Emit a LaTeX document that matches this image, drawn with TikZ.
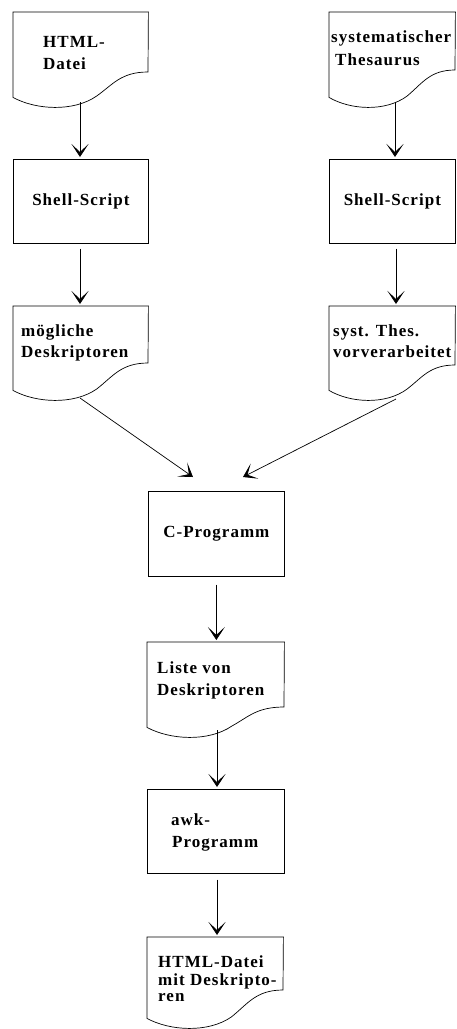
\documentclass[tikz,border=0pt]{standalone}
\usepackage{fontspec}
\setmainfont{Liberation Serif}[LetterSpace=6]
\usetikzlibrary{arrows.meta,calc}

\newcommand\lbl{\fontsize{17}{20}\selectfont\bfseries}

\tikzset{
  outline/.style={line width=0.7pt},
  procbox/.style={draw, outline, rectangle, inner sep=0pt, anchor=north west, font=\lbl},
  docarea/.style={rectangle, inner sep=0pt, anchor=north west},
  lbl/.style={anchor=base west, inner sep=0pt, font=\lbl},
  flow/.style={line width=0.7pt, -{Stealth[length=13pt,width=17pt,inset=8pt]}, shorten >=2pt},
}

% document symbol: name, left x, top y, width, depth of left side, depth of right side
\newcommand\docsheet[6]{%
  \node[docarea, minimum width=#4pt, minimum height=#5pt] (#1) at (#2,#3) {};
  \pgfmathsetmacro\xb{#2+#4}%
  \pgfmathsetmacro\yl{#3+#5}%
  \pgfmathsetmacro\yr{#3+#6}%
  \pgfmathsetmacro\ym{0.5*(\yl+\yr)}%
  \pgfmathsetmacro\cA{#2+0.80*#4}%
  \pgfmathsetmacro\cB{#2+0.74*#4}%
  \pgfmathsetmacro\xM{#2+0.62*#4}%
  \pgfmathsetmacro\cC{#2+0.45*#4}%
  \pgfmathsetmacro\cD{#2+0.17*#4}%
  \draw[outline] (#1.north west) -- (#1.north east) -- (\xb,\yr)
    .. controls (\cA,\yr) and (\cB,\ym) .. (\xM,\yl-1)
    .. controls (\cC,\yl+15) and (\cD,\yl+13) .. (#1.south west) -- cycle;
}

\begin{document}
\begin{tikzpicture}[x=1pt,y=-1pt]
\useasboundingbox (0,0) rectangle (456,1029);

% input documents
\docsheet{d1}{13}{12}{135}{85}{60}
\docsheet{d2}{329}{12}{126}{85}{58}
\node[lbl] (d1a) at (43,47) {HTML-};
\node[lbl] (d1b) at (43,69) {Datei};
\node[lbl] (d2a) at (331,42) {systematischer};
\node[lbl] (d2b) at (335,65) {Thesaurus};

% preprocessing scripts
\node[procbox, minimum width=135pt, minimum height=84pt] (s1) at (13,159) {Shell-Script};
\node[procbox, minimum width=126pt, minimum height=84pt] (s2) at (329,159) {Shell-Script};

% intermediate documents
\docsheet{d3}{13}{306}{135}{84}{57}
\docsheet{d4}{329}{306}{126}{84}{59}
\node[lbl] (d3a) at (21,336) {mögliche};
\node[lbl] (d3b) at (21,357) {Deskriptoren};
\node[lbl] (d4a) at (333,336) {syst. Thes.};
\node[lbl] (d4b) at (333,357) {vorverarbeitet};

% matching program
\node[procbox, minimum width=136pt, minimum height=85pt] (cp) at (148,491) {C-Programm};

% descriptor list
\docsheet{d5}{147}{642}{137}{85}{65}
\node[lbl] (d5a) at (157,673) {Liste von};
\node[lbl] (d5b) at (157,695) {Deskriptoren};

% output program
\node[procbox, minimum width=137pt, minimum height=84pt] (awk) at (147,789) {};
\node[lbl] (awka) at (171,825) {awk-};
\node[lbl] (awkb) at (172,847) {Programm};

% result document
\docsheet{d6}{147}{937}{136}{81}{53}
\node[lbl] (d6a) at (158,967) {HTML-Datei};
\node[lbl] (d6b) at (158,985) {mit Deskripto-};
\node[lbl] (d6c) at (158,1001) {ren};

% connector ends
\coordinate (d1-out) at (80,102);
\coordinate (d2-out) at (395,102);
\coordinate (d3-out) at (80,398);
\coordinate (d4-out) at (396,399);
\coordinate (cp-inl) at (193,477);
\coordinate (cp-inr) at (243,477);
\coordinate (d5-out) at (217,730);

% connectors
\draw[flow] (d1-out) -- (d1-out |- s1.north);
\draw[flow] (d2-out) -- (d2-out |- s2.north);
\draw[flow, shorten <=5pt] (s1.south -| d1-out) -- (d3.north -| d1-out);
\draw[flow, shorten <=5pt] (s2.south -| d4-out) -- (d4.north -| d4-out);
\draw[flow, shorten >=0pt] (d3-out) -- (cp-inl);
\draw[flow, shorten >=0pt] (d4-out) -- (cp-inr);
\draw[flow, shorten <=8pt] (cp.south) -- (d5.north -| cp.south);
\draw[flow] (d5-out) -- (d5-out |- awk.north);
\draw[flow, shorten <=6pt] (awk.south -| d5-out) -- (d6.north -| d5-out);
\end{tikzpicture}
\end{document}
